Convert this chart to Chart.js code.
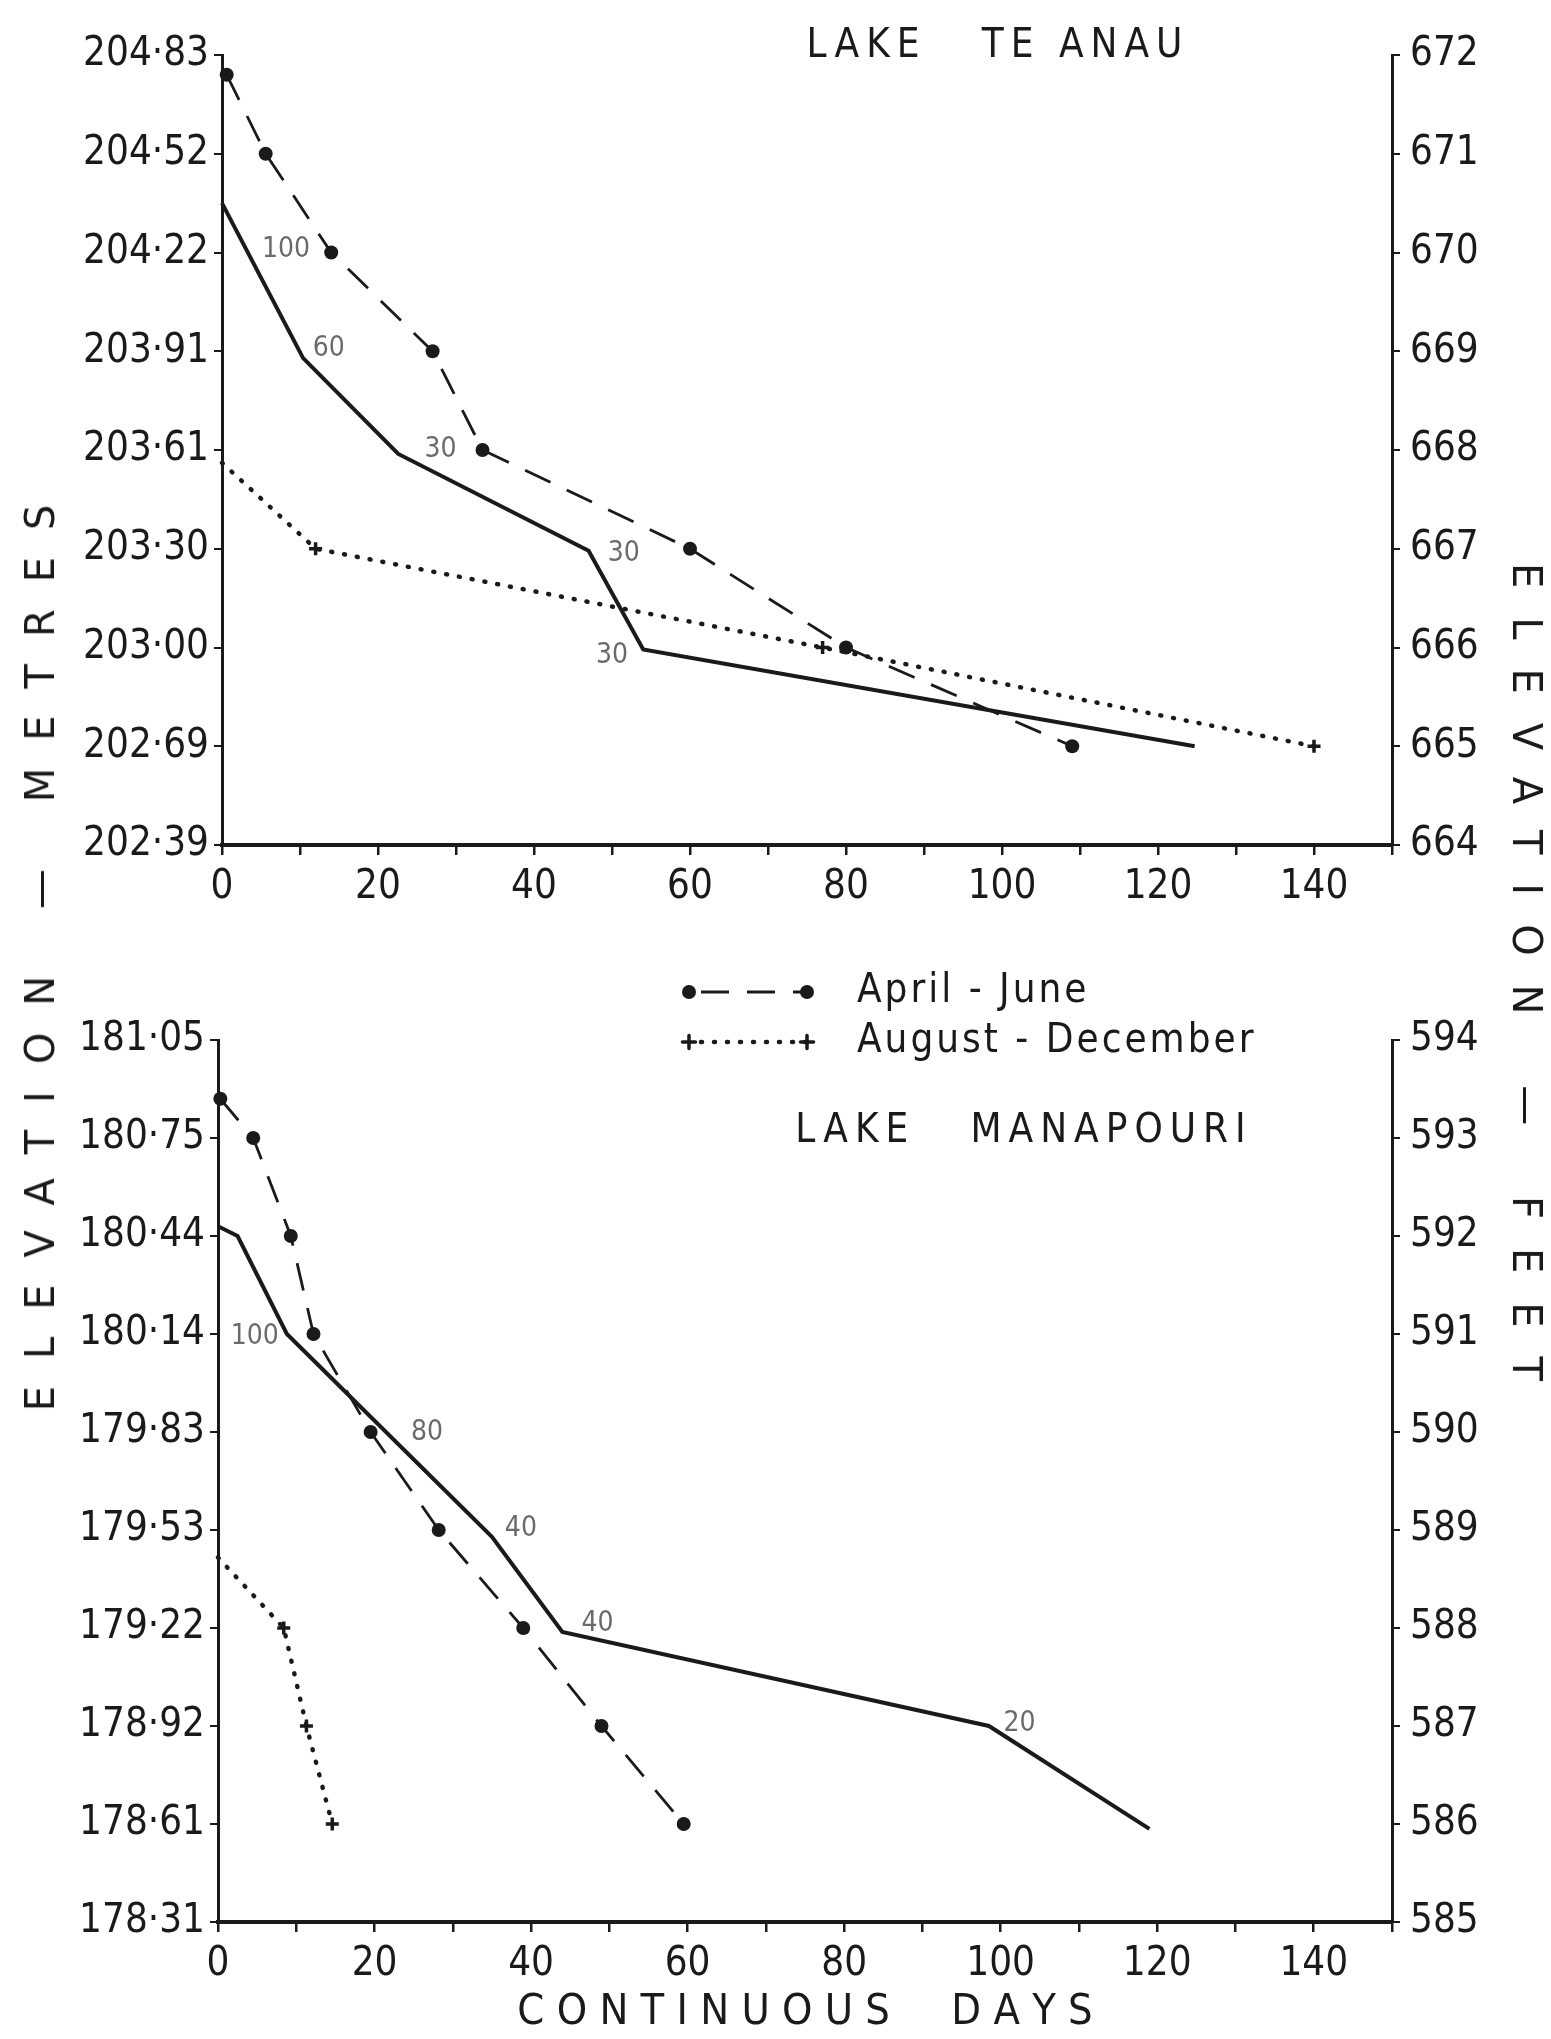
<!DOCTYPE html>
<html lang="en">
<head>
    <meta charset="UTF-8">
    <title>Lake Te Anau and Lake Manapouri levels</title>
    <script src="https://cdn.jsdelivr.net/npm/chart.js@4"></script>
    <style>
        body { margin: 0; background: #fff; }
        #page { position: relative; width: 1551px; height: 2039px; background: #fff; overflow: hidden; }
        canvas { position: absolute; left: 0; }
        #topChart { top: 0; }
        #bottomChart { top: 920px; }
        .vtitle {
            position: absolute;
            font: 40px 'DejaVu Sans', sans-serif;
            color: #1a1a1a;
            white-space: nowrap;
            letter-spacing: 27px;
            padding-left: 27px;
            transform-origin: center;
        }
        #leftTitle { left: 40px; top: 958px; transform: translate(-50%, -50%) rotate(-90deg); }
        #rightTitle { left: 1527px; top: 972px; transform: translate(-50%, -50%) rotate(90deg); letter-spacing: 29px; padding-left: 29px; }
    </style>
</head>
<body>
<div id="page">
    <canvas id="topChart" width="1551" height="920"></canvas>
    <canvas id="bottomChart" width="1551" height="1119"></canvas>
    <div class="vtitle" id="leftTitle">ELEVATION — METRES</div>
    <div class="vtitle" id="rightTitle">ELEVATION — FEET</div>
</div>

<script>
    // Lake Te Anau (level in feet, days of continuous flow)
    const teAnauAprJunDays = [0.6, 5.6, 14, 27, 33.4, 60, 80, 109];
    const teAnauAprJunFeet = [671.8, 671, 670, 669, 668, 667, 666, 665];
    const teAnauAugDecDays = [0, 12, 77, 140];
    const teAnauAugDecFeet = [667.87, 667, 666, 665];
    const teAnauSolidDays = [0, 10.4, 22.6, 47, 54, 124.7];
    const teAnauSolidFeet = [670.5, 668.93, 667.96, 666.98, 665.98, 665];
    const teAnauNoteText = ['100', '60', '30', '30', '30'];
    const teAnauNoteDays = [8.2, 13.7, 28, 51.5, 50];
    const teAnauNoteFeet = [670.03, 669.03, 668.0, 666.95, 665.92];
    const teAnauFeetTicks = [664, 665, 666, 667, 668, 669, 670, 671, 672];
    const teAnauMetreTicks = ['202·39', '202·69', '203·00', '203·30', '203·61', '203·91', '204·22', '204·52', '204·83'];

    // Lake Manapouri
    const manAprJunDays = [0.3, 4.5, 9.3, 12.2, 19.5, 28.2, 39, 49, 59.5];
    const manAprJunFeet = [593.4, 593, 592, 591, 590, 589, 588, 587, 586];
    const manAugDecDays = [0, 8.4, 11.3, 14.6];
    const manAugDecFeet = [588.72, 588, 587, 586];
    const manSolidDays = [0, 2.5, 8.8, 35, 44, 98.5, 119];
    const manSolidFeet = [592.1, 592.0, 591.0, 588.93, 587.96, 587.0, 585.95];
    const manNoteText = ['100', '80', '40', '40', '20'];
    const manNoteDays = [4.7, 26.7, 38.7, 48.5, 102.4];
    const manNoteFeet = [590.97, 589.99, 589.01, 588.04, 587.02];
    const manFeetTicks = [585, 586, 587, 588, 589, 590, 591, 592, 593, 594];
    const manMetreTicks = ['178·31', '178·61', '178·92', '179·22', '179·53', '179·83', '180·14', '180·44', '180·75', '181·05'];

    const seriesNames = ['April - June', 'August - December'];

    const FONT = "'DejaVu Sans Condensed', 'DejaVu Sans', sans-serif";
    const INK = '#1a1a1a';

    function points(days, feet) {
        return days.map((d, i) => ({ x: d, y: feet[i] }));
    }

    function makeDatasets(aprDays, aprFeet, augDays, augFeet, solDays, solFeet) {
        return [
            {
                label: seriesNames[0],
                data: points(aprDays, aprFeet),
                borderColor: INK,
                borderWidth: 2.8,
                borderDash: [28, 18],
                pointStyle: 'circle',
                pointRadius: 7,
                pointBackgroundColor: INK,
                pointBorderColor: INK,
                pointBorderWidth: 0
            },
            {
                label: seriesNames[1],
                data: points(augDays, augFeet),
                borderColor: INK,
                borderWidth: 4.5,
                borderDash: [1, 12],
                borderCapStyle: 'round',
                pointStyle: 'cross',
                pointRadius: augDays.map((d, i) => i === 0 ? 0 : 6.5),
                pointBackgroundColor: INK,
                pointBorderColor: INK,
                pointBorderWidth: 3.5
            },
            {
                label: '',
                data: points(solDays, solFeet),
                borderColor: INK,
                borderWidth: 4,
                pointRadius: 0
            }
        ];
    }

    // small numbers written beside the solid line, plus the lake name
    const notesPlugin = {
        id: 'notes',
        afterDatasetsDraw(chart, args, opts) {
            const { ctx, scales: { x, y } } = chart;
            ctx.save();
            ctx.font = '28px ' + FONT;
            ctx.fillStyle = '#6a6a6a';
            ctx.textAlign = 'center';
            ctx.textBaseline = 'middle';
            opts.text.forEach((t, i) => {
                ctx.fillText(t, x.getPixelForValue(opts.days[i]), y.getPixelForValue(opts.feet[i]));
            });
            ctx.font = '40px ' + FONT;
            ctx.fillStyle = INK;
            ctx.letterSpacing = '7px';
            ctx.fillText(opts.lake, opts.lakeX, opts.lakeY);
            ctx.restore();
        }
    };

    // key between the two panels
    const keyPlugin = {
        id: 'key',
        afterDraw(chart, args, opts) {
            if (!opts.show) return;
            const ctx = chart.ctx;
            [0, 1].forEach(i => {
                const ds = chart.data.datasets[i];
                const yy = opts.y + i * opts.gap;
                const r = Math.max(...[].concat(ds.pointRadius));
                ctx.save();
                ctx.strokeStyle = ds.borderColor;
                ctx.lineWidth = ds.borderWidth;
                ctx.lineCap = ds.borderCapStyle || 'butt';
                ctx.setLineDash(ds.borderDash || []);
                ctx.lineDashOffset = -12;
                ctx.beginPath();
                ctx.moveTo(opts.x0, yy);
                ctx.lineTo(opts.x1, yy);
                ctx.stroke();
                ctx.setLineDash([]);
                ctx.fillStyle = ds.pointBackgroundColor;
                ctx.strokeStyle = ds.pointBorderColor;
                ctx.lineWidth = ds.pointBorderWidth;
                [opts.x0, opts.x1].forEach(px => {
                    Chart.helpers.drawPoint(ctx, { pointStyle: ds.pointStyle, radius: r, borderWidth: ds.pointBorderWidth, rotation: 0 }, px, yy);
                });
                ctx.font = '40px ' + FONT;
                ctx.fillStyle = INK;
                ctx.letterSpacing = '3px';
                ctx.textAlign = 'left';
                ctx.textBaseline = 'middle';
                ctx.fillText(ds.label, opts.textX, yy);
                ctx.restore();
            });
        }
    };

    function axisY(position, min, max, width, labels) {
        return {
            type: 'linear',
            position: position,
            min: min,
            max: max,
            border: { display: true, color: INK, width: 3 },
            grid: { drawOnChartArea: false, drawTicks: true, tickLength: 8, color: INK, lineWidth: 2 },
            ticks: {
                stepSize: 1,
                autoSkip: false,
                padding: position === 'left' ? 5 : 10,
                color: INK,
                font: { family: FONT, size: 40 },
                callback: (v, i) => labels[i]
            },
            afterFit: s => { s.width = width; }
        };
    }

    function makeChart(id, p) {
        return new Chart(document.getElementById(id).getContext('2d'), {
            type: 'line',
            data: { datasets: p.datasets },
            plugins: [notesPlugin, keyPlugin],
            options: {
                responsive: false,
                animation: false,
                events: [],
                layout: { padding: { top: p.padTop, left: 0, right: 0, bottom: 0 } },
                elements: { line: { tension: 0, fill: false } },
                datasets: { line: { clip: false } },
                plugins: {
                    legend: { display: false },
                    tooltip: { enabled: false },
                    notes: p.notes,
                    key: p.key
                },
                scales: {
                    x: {
                        type: 'linear',
                        min: 0,
                        max: 150,
                        border: { display: true, color: INK, width: 4 },
                        grid: { drawOnChartArea: false, drawTicks: true, tickLength: 10, color: INK, lineWidth: 2.5 },
                        ticks: {
                            stepSize: 10,
                            autoSkip: false,
                            maxRotation: 0,
                            padding: 9,
                            color: INK,
                            font: { family: FONT, size: 40 },
                            callback: v => v % 20 === 0 ? String(v) : ''
                        },
                        title: {
                            display: p.xTitle,
                            text: 'C O N T I N U O U S     D A Y S',
                            color: INK,
                            font: { family: FONT, size: 43 },
                            padding: { top: 0, bottom: 0 }
                        },
                        afterFit: s => { s.height = p.xHeight; }
                    },
                    y: axisY('left', p.min, p.max, p.leftWidth, p.metres),
                    y2: axisY('right', p.min, p.max, 159, p.feet.map(String))
                }
            }
        });
    }

    makeChart('topChart', {
        datasets: makeDatasets(teAnauAprJunDays, teAnauAprJunFeet, teAnauAugDecDays, teAnauAugDecFeet, teAnauSolidDays, teAnauSolidFeet),
        min: teAnauFeetTicks[0],
        max: teAnauFeetTicks[teAnauFeetTicks.length - 1],
        feet: teAnauFeetTicks,
        metres: teAnauMetreTicks,
        padTop: 55,
        leftWidth: 222,
        xHeight: 75,
        xTitle: false,
        notes: { text: teAnauNoteText, days: teAnauNoteDays, feet: teAnauNoteFeet, lake: 'LAKE   TE ANAU', lakeX: 998, lakeY: 47 },
        key: { show: false }
    });

    makeChart('bottomChart', {
        datasets: makeDatasets(manAprJunDays, manAprJunFeet, manAugDecDays, manAugDecFeet, manSolidDays, manSolidFeet),
        min: manFeetTicks[0],
        max: manFeetTicks[manFeetTicks.length - 1],
        feet: manFeetTicks,
        metres: manMetreTicks,
        padTop: 120,
        leftWidth: 218,
        xHeight: 117,
        xTitle: true,
        notes: { text: manNoteText, days: manNoteDays, feet: manNoteFeet, lake: 'LAKE   MANAPOURI', lakeX: 1024, lakeY: 212 },
        key: { show: true, x0: 689, x1: 807, textX: 857, y: 72, gap: 50 }
    });
</script>
</body>
</html>
